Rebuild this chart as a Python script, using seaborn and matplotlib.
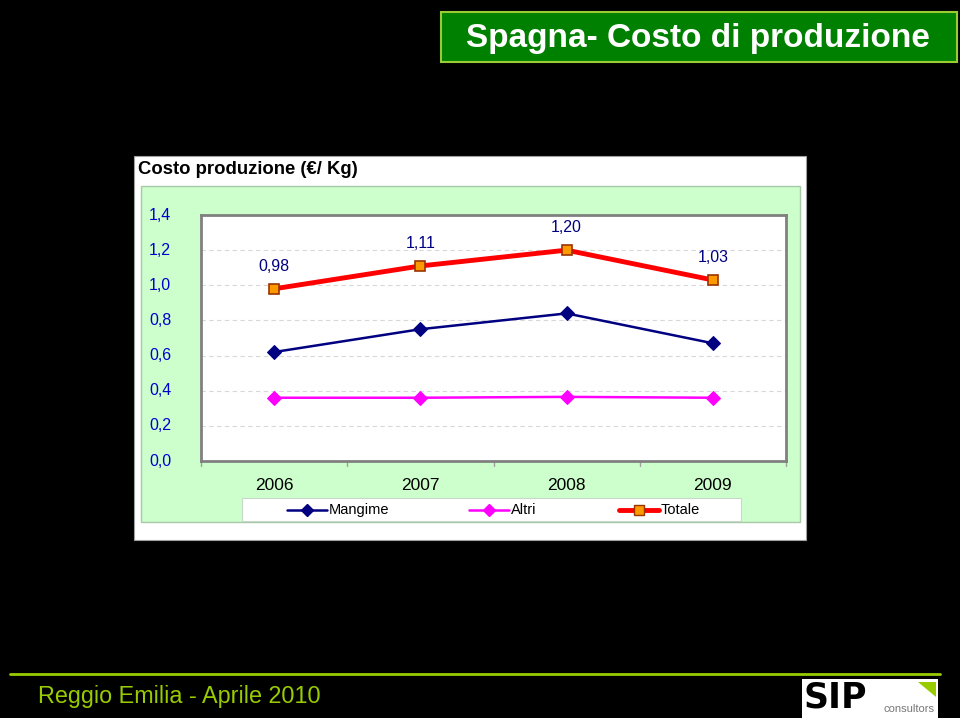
import matplotlib
matplotlib.use("Agg")
import matplotlib.pyplot as plt
import matplotlib.patches as mpatches
import matplotlib.transforms as mtrans
from matplotlib.lines import Line2D
import seaborn as sns

sns.set_theme(style="white")
plt.rcParams['font.family'] = ['Liberation Sans', 'DejaVu Sans']

years = ["2006", "2007", "2008", "2009"]
mangime = [0.62, 0.75, 0.84, 0.67]
altri = [0.36, 0.36, 0.365, 0.36]
totale = [0.98, 1.11, 1.20, 1.03]
totale_labels = ["0,98", "1,11", "1,20", "1,03"]
yticks = [0.0, 0.2, 0.4, 0.6, 0.8, 1.0, 1.2, 1.4]
ytick_labels = ["0,0", "0,2", "0,4", "0,6", "0,8", "1,0", "1,2", "1,4"]
series_names = ["Mangime", "Altri", "Totale"]

W, H = 960, 718
fig = plt.figure(figsize=(W / 100, H / 100), dpi=100, facecolor="black")

def px_rect(x0, y0, x1, y1):
    return (x0 / W, 1 - y1 / H, (x1 - x0) / W, (y1 - y0) / H)

bg = fig.add_axes([0, 0, 1, 1])
bg.set_xlim(0, W)
bg.set_ylim(H, 0)
bg.axis("off")

# title box
bg.add_patch(mpatches.Rectangle((441, 12), 516, 50, facecolor="#008000",
                                edgecolor="#99CC33", lw=1.5))
bg.text(698, 38, "Spagna- Costo di produzione", color="white", fontsize=24,
        fontweight="bold", ha="center", va="center")

# chart white panel
bg.add_patch(mpatches.Rectangle((134, 156), 672, 384, facecolor="white",
                                edgecolor="#A0A0A0", lw=0.8))
# light green chart area
bg.add_patch(mpatches.Rectangle((141, 186), 659, 336, facecolor="#CCFFCC",
                                edgecolor="#A8C8A8", lw=1.0))
bg.text(138, 169, "Costo produzione (€/ Kg)", color="black", fontsize=13.3,
        fontweight="bold", ha="left", va="center")

# legend box
bg.add_patch(mpatches.Rectangle((242, 498), 499, 23, facecolor="white",
                                edgecolor="#C8D8C8", lw=0.8))

# footer
bg.plot([10, 940], [674, 674], color="#99CC00", lw=2)
bg.text(38, 697, "Reggio Emilia - Aprile 2010", color="#99CC00", fontsize=16.8,
        ha="left", va="center")
# logo
bg.add_patch(mpatches.Rectangle((802, 679), 136, 39, facecolor="white",
                                edgecolor="none"))
bg.text(804, 697, "SIP", color="black", fontsize=25, fontweight="heavy",
        ha="left", va="center", family=["DejaVu Sans"])
bg.text(935, 709, "consultors", color="#777777", fontsize=8, ha="right",
        va="center")
bg.add_patch(mpatches.Polygon([(918, 682), (936, 682), (936, 697)],
                              closed=True, facecolor="#99CC00", edgecolor="none"))

# plot axes
ax = fig.add_axes(px_rect(201, 215, 786, 461))
ax.set_facecolor("white")

x = list(range(len(years)))
sns.lineplot(x=x, y=mangime, ax=ax, color="#000080", lw=1.8, marker="D",
             markersize=7, markerfacecolor="#000080", markeredgecolor="#000080")
sns.lineplot(x=x, y=altri, ax=ax, color="#FF00FF", lw=1.8, marker="D",
             markersize=7, markerfacecolor="#FF00FF", markeredgecolor="#FF00FF")
sns.lineplot(x=x, y=totale, ax=ax, color="#FF0000", lw=3.5, marker="s",
             markersize=7.5, markerfacecolor="#FF9900", markeredgecolor="#993300",
             markeredgewidth=1.2)

for xi, v, lab in zip(x, totale, totale_labels):
    ax.annotate(lab, (xi, v), xytext=(0, 11), textcoords="offset points",
                ha="center", va="bottom", color="#000080", fontsize=11.5)

ax.set_xlim(-0.5, 3.5)
ax.set_ylim(0, 1.4)
ax.set_yticks([])
ax.set_xticks([])
for yv in yticks[1:-1]:
    ax.axhline(yv, color="#D8D8D8", lw=0.8, ls=(0, (4, 3)), zorder=0)
for s in ax.spines.values():
    s.set_color("#808080")
    s.set_linewidth(2)

trans_y = mtrans.blended_transform_factory(bg.transData, ax.transData)
for yv, lab in zip(yticks, ytick_labels):
    ax.text(160, yv, lab, transform=trans_y, ha="center", va="center",
            color="#0000CC", fontsize=11.5)

trans_x = mtrans.blended_transform_factory(ax.transData, bg.transData)
for b in [-0.5, 0.5, 1.5, 2.5, 3.5]:
    ax.plot([b, b], [461, 466], transform=trans_x, color="#A0A0A0", lw=1,
            clip_on=False)
for xi, lab in zip(x, years):
    ax.text(xi, 485, lab, transform=trans_x, ha="center", va="center",
            color="black", fontsize=12.5)

# legend
handles = [
    Line2D([], [], color="#000080", lw=1.8, marker="D", markersize=6,
           markerfacecolor="#000080", markeredgecolor="#000080"),
    Line2D([], [], color="#FF00FF", lw=1.8, marker="D", markersize=6,
           markerfacecolor="#FF00FF", markeredgecolor="#FF00FF"),
    Line2D([], [], color="#FF0000", lw=3.5, marker="s", markersize=7,
           markerfacecolor="#FF9900", markeredgecolor="#993300"),
]
leg_x = [287, 469, 619]
for lx, h, name in zip(leg_x, handles, series_names):
    bg.plot([lx, lx + 40], [509.5, 509.5], color=h.get_color(), lw=h.get_linewidth())
    bg.plot([lx + 20], [509.5], marker=h.get_marker(), markersize=h.get_markersize(),
            markerfacecolor=h.get_markerfacecolor(),
            markeredgecolor=h.get_markeredgecolor(), color=h.get_color())
    bg.text(lx + 42, 510, name, ha="left", va="center", color="black",
            fontsize=10.5)

fig.savefig("out.png", dpi=100, facecolor="black")
